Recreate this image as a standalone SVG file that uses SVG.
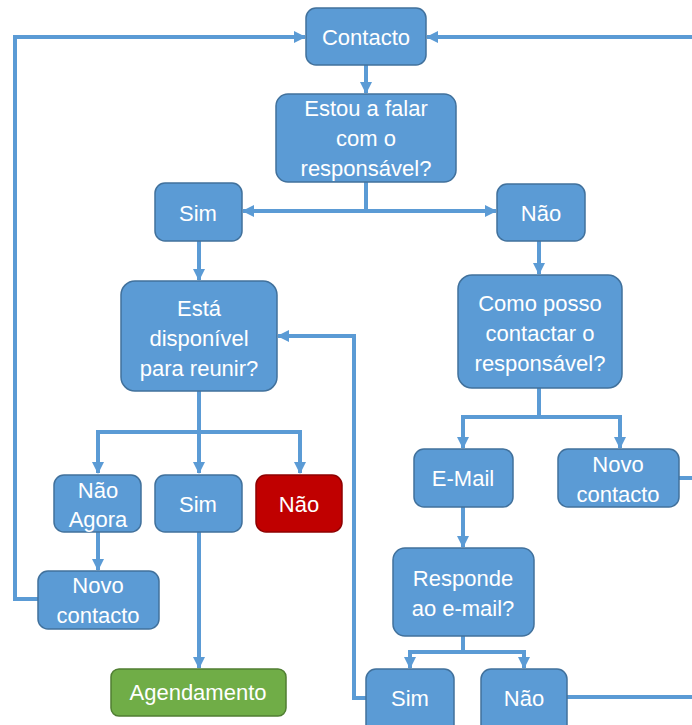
<svg xmlns="http://www.w3.org/2000/svg" width="692" height="725" viewBox="0 0 692 725">
<style>
.b{fill:#5B9BD5;stroke:#41719C;stroke-width:1.5}
.r{fill:#C00000;stroke:#8F0000;stroke-width:1.5}
.g{fill:#70AD47;stroke:#507E32;stroke-width:1.5}
text{font-family:"Liberation Sans",Arial,sans-serif;font-size:22px;fill:#FFFFFF;text-anchor:middle}
.c{fill:none;stroke:#5B9BD5;stroke-width:4}
</style>
<defs>
<marker id="a" markerUnits="userSpaceOnUse" markerWidth="12" markerHeight="12" viewBox="0 0 12 12" refX="11" refY="6" orient="auto">
<path d="M0,0 L12,6 L0,12 Z" fill="#5B9BD5"/>
</marker>
</defs>
<rect width="692" height="725" fill="#FFFFFF"/>
<g id="connectors">
<path class="c" d="M366,65 V93" marker-end="url(#a)"/>
<path class="c" d="M366,182 V211 H243" marker-end="url(#a)"/>
<path class="c" d="M366,211 H496" marker-end="url(#a)"/>
<path class="c" d="M199,241 V280" marker-end="url(#a)"/>
<path class="c" d="M539,241 V274" marker-end="url(#a)"/>
<path class="c" d="M199,391 V432 H98 V473" marker-end="url(#a)"/>
<path class="c" d="M199,432 V473" marker-end="url(#a)"/>
<path class="c" d="M199,432 H300 V473" marker-end="url(#a)"/>
<path class="c" d="M539,388 V417 H463 V448" marker-end="url(#a)"/>
<path class="c" d="M539,417 H620 V448" marker-end="url(#a)"/>
<path class="c" d="M98,532 V570" marker-end="url(#a)"/>
<path class="c" d="M38,599 H15 V37 H305" marker-end="url(#a)"/>
<path class="c" d="M692,37 H427" marker-end="url(#a)"/>
<path class="c" d="M679,478 H692"/>
<path class="c" d="M199,532 V668" marker-end="url(#a)"/>
<path class="c" d="M463,507 V547" marker-end="url(#a)"/>
<path class="c" d="M463,636 V652 H410 V668" marker-end="url(#a)"/>
<path class="c" d="M463,652 H524 V668" marker-end="url(#a)"/>
<path class="c" d="M366,698 H354 V336 H278" marker-end="url(#a)"/>
<path class="c" d="M566,697 H692"/>
</g>
<g id="contacto"><rect class="b" x="306" y="8" width="120" height="57" rx="10"/><text x="366" y="45">Contacto</text></g>
<g id="estou"><rect class="b" x="276" y="94" width="180" height="88" rx="12"/><text x="366" y="116">Estou a falar</text><text x="366" y="146">com o</text><text x="366" y="176">responsável?</text></g>
<g id="sim1"><rect class="b" x="155" y="183" width="87" height="58" rx="10"/><text x="198" y="221">Sim</text></g>
<g id="nao1"><rect class="b" x="497" y="184" width="88" height="57" rx="10"/><text x="541" y="221">Não</text></g>
<g id="esta"><rect class="b" x="121" y="281" width="156" height="110" rx="14"/><text x="199" y="316">Está</text><text x="199" y="346">disponível</text><text x="199" y="376">para reunir?</text></g>
<g id="como"><rect class="b" x="458" y="275" width="164" height="113" rx="14"/><text x="540" y="311">Como posso</text><text x="540" y="341">contactar o</text><text x="540" y="371">responsável?</text></g>
<g id="naoagora"><rect class="b" x="54" y="475" width="87" height="57" rx="10"/><text x="98" y="498">Não</text><text x="98" y="527">Agora</text></g>
<g id="sim2"><rect class="b" x="155" y="475" width="87" height="57" rx="10"/><text x="198" y="512">Sim</text></g>
<g id="nao2"><rect class="r" x="256" y="475" width="86" height="57" rx="10"/><text x="299" y="512">Não</text></g>
<g id="email"><rect class="b" x="414" y="449" width="99" height="58" rx="10"/><text x="463" y="486">E-Mail</text></g>
<g id="novo1"><rect class="b" x="558" y="449" width="121" height="58" rx="10"/><text x="618" y="472">Novo</text><text x="618" y="502">contacto</text></g>
<g id="novo2"><rect class="b" x="38" y="571" width="121" height="58" rx="10"/><text x="98" y="593">Novo</text><text x="98" y="623">contacto</text></g>
<g id="responde"><rect class="b" x="393" y="548" width="141" height="88" rx="12"/><text x="463" y="586">Responde</text><text x="463" y="616">ao e-mail?</text></g>
<g id="agendamento"><rect class="g" x="111" y="669" width="175" height="47" rx="8"/><text x="198" y="700">Agendamento</text></g>
<g id="sim3"><rect class="b" x="366" y="669" width="88" height="66" rx="10"/><text x="410" y="706">Sim</text></g>
<g id="nao3"><rect class="b" x="481" y="669" width="86" height="66" rx="10"/><text x="524" y="706">Não</text></g>
</svg>
